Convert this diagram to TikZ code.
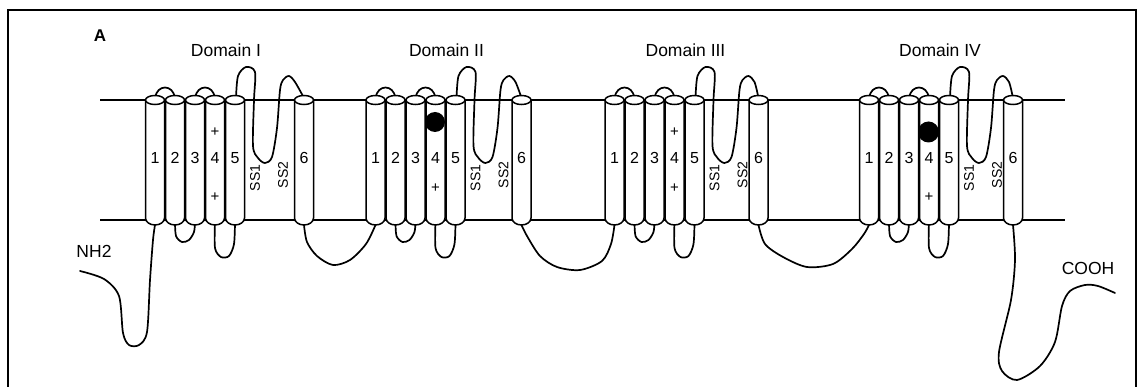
\documentclass[tikz,border=0pt]{standalone}
\usepackage{fontspec}
\setmainfont{Liberation Sans}
\usepackage{tikz}

\tikzset{
  strand/.style={line width=1.7pt, line join=round, line cap=round},
  membrane/.style={line width=1.1pt},
  helixbox/.style={line width=1.5pt, fill=white},
  num/.style={font=\fontsize{16}{18}\selectfont, inner sep=0pt},
  dom/.style={font=\fontsize{17.5}{20}\selectfont, inner sep=0pt},
  ss/.style={font=\fontsize{14}{16}\selectfont, inner sep=0pt, rotate=90},
  charge/.style={font=\fontsize{15}{17}\selectfont, inner sep=0pt},
  blob/.style={circle, fill=black, inner sep=0pt, minimum size=20pt},
  helix/.pic={
    \filldraw[helixbox] (-9.5,0) -- (-9.5,118) arc[start angle=180, end angle=0, x radius=9.5, y radius=7] -- (9.5,0) -- cycle;
    \filldraw[helixbox] (0,0) ellipse[x radius=9.5, y radius=4.5];
  }
}

\begin{document}
\begin{tikzpicture}[x=1pt, y=-1pt]
  \useasboundingbox (0,0) rectangle (1138,387);
  % Frame
  \draw[line width=1.6pt] (8,387) -- (8,10) -- (1136,10) -- (1136,387);
  \node[font=\bfseries\fontsize{17}{19}\selectfont, inner sep=0pt] (panel) at (100,36) {A};
  % Membrane
  \draw[membrane] (100,100) -- (1065,100);
  \draw[membrane] (100,220) -- (1065,220);
  % Domains
  \foreach \d/\x/\s/\r in {1/155/149/I, 2/375.5/146/II, 3/614.5/144/III, 4/869/144/IV} {
    \begin{scope}[shift={(\x,0)}]
      % loops
      \draw[strand] (0,98) .. controls (2,84) and (18,84) .. (20,98);
      \draw[strand] (40,98) .. controls (42,84) and (58,84) .. (60,98);
      \draw[strand] plot[smooth] coordinates {(20,222) (21,236) (27,242) (34,240) (39,232) (40,222)};
      \draw[strand] plot[smooth] coordinates {(60,222) (60,248) (66,257) (74,256) (79,244) (80,222)};
      \draw[strand] plot[smooth] coordinates {(81,98) (83,76) (91,67) (100,72) (99,100) (98,146) (103,158) (110,163) (117,157) (122,128) (125,90) (128,80) (134,76) (140,82) (\s,98)};
      % helices
      \foreach \i in {1,...,5} {
        \pic at (20*\i-20,100) {helix};
        \coordinate (b\d\i) at (20*\i-20,225);
        \node[num] (n\d\i) at (20*\i-20,158) {\i};
      }
      \pic at (\s,100) {helix};
      \coordinate (b\d6) at (\s,225);
      \node[num] (n\d6) at (\s,158) {6};
      % labels
      \node[dom] (dom\d) at (71,50) {Domain \r};
      \node[ss] (sa\d) at (100,178) {SS1};
      \node[ss] (sb\d) at (128,175) {SS2};
    \end{scope}
  }
  % Charges
  \node[charge] (p1a) at (215,132) {+};
  \node[charge] (p1b) at (215,197) {+};
  \node[blob] (k2) at (435,122) {};
  \node[charge] (p2b) at (435.5,188) {+};
  \node[charge] (p3a) at (674.5,132) {+};
  \node[charge] (p3b) at (674.5,188) {+};
  \node[blob, minimum size=21pt] (k4) at (928.5,132) {};
  \node[charge] (p4b) at (929,197) {+};
  % Linkers
  \draw[strand] plot[smooth] coordinates {(b16) (307,242) (317,256) (333,265) (350,260) (366,244) (b21)};
  \draw[strand] plot[smooth] coordinates {(b26) (527,236) (540,256) (557,267) (580,270) (602,261) (611,244) (b31)};
  \draw[strand] plot[smooth] coordinates {(b36) (765,244) (783,257) (807,267) (833,264) (852,249) (864,234) (b41)};
  % Tails
  \node[dom] (nh) at (94,251) {NH2};
  \node[dom] (cooh) at (1088,268) {COOH};
  \draw[strand] plot[smooth] coordinates {(80,271) (104,279) (119,296) (123,333) (129,345) (139,345) (147,332) (150,280) (153,240) (b11)};
  \draw[strand] plot[smooth] coordinates {(b46) (1015,260) (1011,300) (999,352) (1002,371) (1017,380) (1040,366) (1055,342) (1062,306) (1070,291) (1085,285) (1098,286) (1115,293)};
\end{tikzpicture}
\end{document}
